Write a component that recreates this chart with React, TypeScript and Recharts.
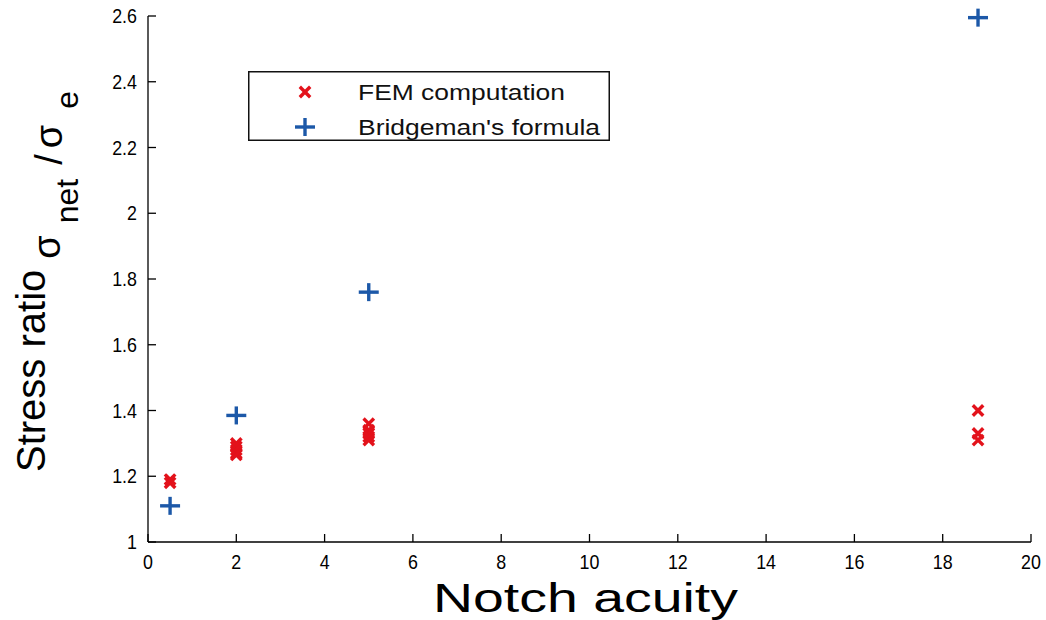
import React from "react";
import {
  Legend,
  Scatter,
  ScatterChart,
  XAxis,
  YAxis,
} from "recharts";

// notch acuity vs. stress ratio, FEM runs and Bridgeman's closed form
const femAcuity = [0.5, 0.5, 2, 2, 2, 2, 2, 5, 5, 5, 5, 5, 18.8, 18.8, 18.8];
const femRatio = [1.18, 1.19, 1.3, 1.29, 1.28, 1.27, 1.265, 1.36, 1.34, 1.33, 1.32, 1.31, 1.4, 1.33, 1.31];

const bridgemanAcuity = [0.5, 2, 5, 18.8];
const bridgemanRatio = [1.11, 1.385, 1.76, 2.595];

const xTicks = [0, 2, 4, 6, 8, 10, 12, 14, 16, 18, 20];
const yTicks = [1, 1.2, 1.4, 1.6, 1.8, 2, 2.2, 2.4, 2.6];

const seriesNames = ["FEM computation", "Bridgeman's formula"];

const RED = "#e3121b";
const BLUE = "#1c58a8";
const FONT = "'Liberation Sans', Arial, Helvetica, sans-serif";

const femData = femAcuity.map((x, i) => ({ x, y: femRatio[i] }));
const bridgemanData = bridgemanAcuity.map((x, i) => ({ x, y: bridgemanRatio[i] }));

const Cross = ({ cx, cy }: any) => (
  <g stroke={RED} strokeWidth={3.4} strokeLinecap="square">
    <line x1={cx - 4} y1={cy - 4} x2={cx + 4} y2={cy + 4} />
    <line x1={cx - 4} y1={cy + 4} x2={cx + 4} y2={cy - 4} />
  </g>
);

const Plus = ({ cx, cy }: any) => (
  <g stroke={BLUE} strokeWidth={3.4}>
    <line x1={cx - 10} y1={cy} x2={cx + 10} y2={cy} />
    <line x1={cx} y1={cy - 9} x2={cx} y2={cy + 9} />
  </g>
);

// inward MATLAB-style ticks, labels drawn outside the box
const LeftTick = ({ x, y, payload }: any) => (
  <g>
    <line x1={x} x2={x + 8} y1={y} y2={y} stroke="#000" strokeWidth={1.3} />
    <text
      transform={`translate(${x - 11},${y + 7}) scale(0.85,1)`}
      textAnchor="end"
      fontSize={21}
      fontFamily={FONT}
      fill="#000"
    >
      {String(payload.value)}
    </text>
  </g>
);

const RightTick = ({ x, y }: any) => (
  <line x1={x} x2={x - 8} y1={y} y2={y} stroke="#000" strokeWidth={1.3} />
);

const BottomTick = ({ x, y, payload }: any) => (
  <g>
    <line x1={x} x2={x} y1={y} y2={y - 8} stroke="#000" strokeWidth={1.3} />
    <text
      transform={`translate(${x},${y + 27}) scale(0.85,1)`}
      textAnchor="middle"
      fontSize={21}
      fontFamily={FONT}
      fill="#000"
    >
      {String(payload.value)}
    </text>
  </g>
);

const TopTick = ({ x, y }: any) => (
  <line x1={x} x2={x} y1={y} y2={y + 8} stroke="#000" strokeWidth={1.3} />
);

const XTitle = ({ viewBox }: any) => {
  const cx = viewBox.x + viewBox.width / 2 - 4;
  return (
    <text
      x={cx}
      y={viewBox.y + 70}
      textAnchor="middle"
      fontSize={41}
      fontFamily={FONT}
      textLength={305}
      lengthAdjust="spacingAndGlyphs"
      fill="#000"
    >
      Notch acuity
    </text>
  );
};

const YTitle = ({ viewBox }: any) => {
  const base = viewBox.y + viewBox.height;
  return (
    <text transform="rotate(-90)" fontFamily={FONT} fill="#000">
      <tspan x={-(base - 70)} y={45} fontSize={40}>Stress ratio</tspan>
      <tspan dx={11} dy={15} fontSize={38}>σ</tspan>
      <tspan dx={12} dy={18} fontSize={32}>net</tspan>
      <tspan dx={14} dy={-16} fontSize={38}>/</tspan>
      <tspan dx={6} fontSize={38}>σ</tspan>
      <tspan dx={16} dy={16} fontSize={32}>e</tspan>
    </text>
  );
};

const LegendBox = () => {
  const widths = [207, 242];
  return (
    <svg width={362} height={70} style={{ display: "block" }}>
      <rect x={0.75} y={0.75} width={360.5} height={68.5} fill="#fff" stroke="#111" strokeWidth={1.5} />
      {seriesNames.map((name, i) => {
        const cy = 21 + i * 35;
        return (
          <g key={name}>
            {i === 0 ? <Cross cx={57} cy={cy} /> : <Plus cx={57} cy={cy} />}
            <text
              x={110}
              y={cy + 8}
              fontSize={22}
              fontFamily={FONT}
              fill="#111"
              textLength={widths[i]}
              lengthAdjust="spacingAndGlyphs"
            >
              {name}
            </text>
          </g>
        );
      })}
    </svg>
  );
};

export default function App() {
  return (
    <div style={{ position: "absolute", left: 0, top: 0, background: "#fff", fontFamily: FONT }}>
      <ScatterChart width={1046} height={620} margin={{ top: 16, right: 15, bottom: 38, left: 88 }}>
        <XAxis
          type="number"
          dataKey="x"
          domain={[0, 20]}
          ticks={xTicks}
          height={40}
          stroke="#000"
          strokeWidth={1.3}
          tickSize={0}
          tickMargin={0}
          tick={<BottomTick />}
          label={{ content: <XTitle /> }}
        />
        <XAxis
          xAxisId="top"
          orientation="top"
          type="number"
          dataKey="x"
          domain={[0, 20]}
          ticks={xTicks}
          height={0}
          stroke="#000"
          strokeWidth={1.3}
          tickSize={0}
          tickMargin={0}
          tick={<TopTick />}
          allowDataOverflow
        />
        <YAxis
          type="number"
          dataKey="y"
          domain={[1, 2.6]}
          ticks={yTicks}
          width={60}
          stroke="#000"
          strokeWidth={1.3}
          tickSize={0}
          tickMargin={0}
          tick={<LeftTick />}
          label={{ content: <YTitle /> }}
        />
        <YAxis
          yAxisId="right"
          orientation="right"
          type="number"
          dataKey="y"
          domain={[1, 2.6]}
          ticks={yTicks}
          width={0}
          stroke="#000"
          strokeWidth={1.3}
          tickSize={0}
          tickMargin={0}
          tick={<RightTick />}
          allowDataOverflow
        />
        <Legend
          layout="vertical"
          align="center"
          verticalAlign="middle"
          wrapperStyle={{ left: 248, top: 71, width: 362, height: 70 }}
          content={<LegendBox />}
        />
        <Scatter name={seriesNames[0]} data={femData} fill={RED} shape={<Cross />} isAnimationActive={false} />
        <Scatter name={seriesNames[1]} data={bridgemanData} fill={BLUE} shape={<Plus />} isAnimationActive={false} />
      </ScatterChart>
    </div>
  );
}
